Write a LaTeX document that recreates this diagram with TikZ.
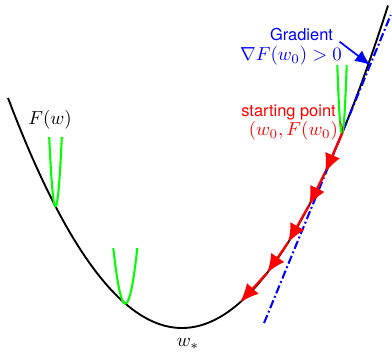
\documentclass[tikz,border=0pt]{standalone}
\usepackage{fontspec}
\setsansfont{TeX Gyre Heros}
\usetikzlibrary{arrows.meta}
\begin{document}
\begin{tikzpicture}[x=0.53pt, y=0.53pt, >=latex,
		declare function={F(\t)=24+0.0076*(\t-182)*(\t-182);},
		lbl/.style={font=\sffamily\fontsize{8.7}{10}\selectfont},
		gdstep/.style={red, line width=1.2pt, -{Latex[length=10pt,width=8.5pt]}},
		localquad/.style={green, line width=1.1pt}]
		\useasboundingbox (0,0) rectangle (392,352);
		% objective
		\draw[line width=1pt, smooth] plot[domain=8:388, samples=80] (\x,{F(\x)});
		% tangent at the starting point
		\pgfmathsetmacro{\slope}{2*0.0076*(342-182)}
		\coordinate (tlo) at ({342-(F(342)-29)/\slope}, 29);
		\coordinate (thi) at ({342+(337-F(342))/\slope}, 337);
		\coordinate (gtip) at ({342+(287-F(342))/\slope}, 287);
		\draw[blue, line width=1.1pt, dash pattern=on 4.5pt off 1.5pt on 1pt off 1.5pt] (tlo) -- (thi);
		% local quadratic models
		\foreach \xv/\w/\ytop in {55.5/6.3/215, 125.3/12/104, 342/4.7/287} {
				\pgfmathsetmacro{\ybot}{F(\xv)}
				\draw[localquad, smooth] plot[domain={\xv-\w}:{\xv+\w}, samples=30]
				(\x,{\ybot+(\ytop-\ybot)*((\x-\xv)/\w)*((\x-\xv)/\w)});
			}
		% descent steps
		\foreach \xx [count=\i from 0] in {342, 325, 309, 288, 267, 240}
		\coordinate (p\i) at (\xx,{F(\xx)});
		\foreach \i [evaluate=\i as \j using int(\i+1)] in {0,...,4}
		\draw[gdstep] (p\i) -- (p\j);
		% labels
		\node[lbl, text=blue] (grad) at (301.5, 317) {Gradient};
		\node[text=blue] (gradval) at (291, 296) {$\nabla F(w_0) > 0$};
		\draw[blue, line width=0.9pt, -{Latex[length=8pt,width=7pt]}] (grad.-10) -- (gtip);
		\node[lbl, text=red] (start) at (288.5, 240) {starting point};
		\node[text=red] (startval) at (297, 221) {$(w_0, F(w_0))$};
		\node (Fw) at (50, 232) {$F(w)$};
		\node (wstar) at (188, 8) {$w_*$};
	\end{tikzpicture}
\end{document}
